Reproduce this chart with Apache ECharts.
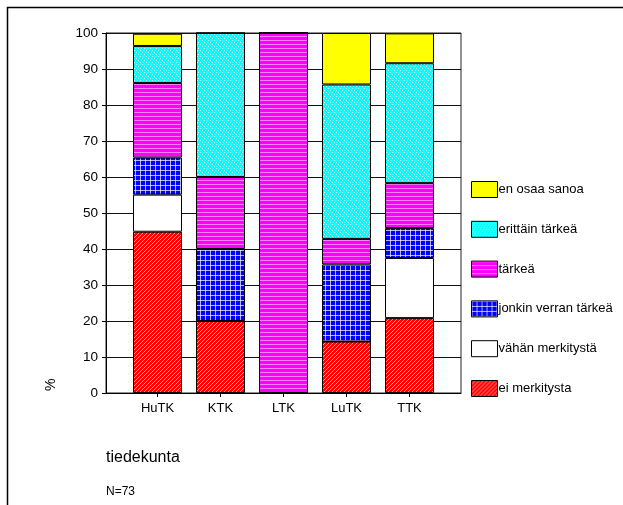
<!DOCTYPE html>
<html><head><meta charset="utf-8">
<script src="https://cdn.jsdelivr.net/npm/echarts@6/dist/echarts.min.js"></script>
<style>html,body{margin:0;padding:0;background:#fff}#c{width:623px;height:505px}</style>
</head><body><div id="c"></div>
<script>
const categories = ['HuTK', 'KTK', 'LTK', 'LuTK', 'TTK'];
const seriesNames = ['ei merkitysta', 'vähän merkitystä', 'jonkin verran tärkeä', 'tärkeä', 'erittäin tärkeä', 'en osaa sanoa'];
const eiMerkitysta   = [44.8, 20, 0, 14.3, 20.8];
const vahanMerkitysta = [10.3, 0, 0, 0, 16.7];
const jonkinVerran   = [10.3, 20, 0, 21.4, 8.3];
const tarkea         = [20.7, 20, 100, 7.1, 12.5];
const erittainTarkea = [10.3, 40, 0, 42.9, 33.3];
const enOsaaSanoa    = [3.4, 0, 0, 14.3, 8.3];
const yTicks = [0, 10, 20, 30, 40, 50, 60, 70, 80, 90, 100];

function pattern(w, h, bg, draw) {
  const c = document.createElement('canvas');
  c.width = w; c.height = h;
  const g = c.getContext('2d');
  g.fillStyle = bg; g.fillRect(0, 0, w, h);
  draw(g);
  return { image: c, repeat: 'repeat' };
}
const redPat = pattern(4, 4, '#ff0000', g => {
  g.strokeStyle = 'rgba(255,255,255,0.75)'; g.lineWidth = 0.8;
  g.beginPath(); g.moveTo(-1, 5); g.lineTo(5, -1); g.stroke();
});
const bluePat = pattern(5, 5, '#0000ff', g => {
  g.fillStyle = 'rgba(255,255,255,0.7)';
  g.fillRect(0, 0, 5, 1); g.fillRect(0, 0, 1, 5);
});
const magPat = pattern(4, 4, '#ff00ff', g => {
  g.fillStyle = 'rgba(255,255,255,0.5)';
  g.fillRect(0, 0, 4, 1);
});
const cyanPat = pattern(6, 6, '#00ffff', g => {
  g.fillStyle = 'rgba(255,255,255,0.75)';
  for (let i = 0; i < 6; i += 1) { if (i % 2 === 0) g.fillRect(i, i, 1, 1); }
  g.fillRect(3, 0, 1, 1); g.fillRect(5, 2, 1, 1); g.fillRect(1, 4, 1, 1);
});
const fills = [redPat, '#ffffff', bluePat, magPat, cyanPat, '#ffff00'];
const values = [eiMerkitysta, vahanMerkitysta, jonkinVerran, tarkea, erittainTarkea, enOsaaSanoa];

const font = 'Liberation Sans, Arial, sans-serif';
const chart = echarts.init(document.getElementById('c'), null, { renderer: 'canvas' });
chart.setOption({
  animation: false,
  backgroundColor: '#fff',
  textStyle: { fontFamily: font },
  grid: [
    { left: 106, right: 162, top: 33, bottom: 112, show: true, borderColor: '#222', borderWidth: 1, backgroundColor: 'transparent' },
    { left: 126, width: 315, top: 33, bottom: 112 }
  ],
  xAxis: [
    { gridIndex: 0, type: 'value', min: 0, max: 1, axisLabel: { show: false }, axisTick: { show: false }, splitLine: { show: false },
      axisLine: { show: true, lineStyle: { color: '#000', width: 1 } } },
    { gridIndex: 1, type: 'category', data: categories, axisLine: { show: false },
      axisTick: { show: true, alignWithLabel: true, length: 4, lineStyle: { color: '#000' } },
      axisLabel: { color: '#000', fontSize: 13, fontFamily: font, margin: 9 } }
  ],
  yAxis: [
    { gridIndex: 0, type: 'value', min: 0, max: 100, interval: 10,
      axisLine: { show: true, lineStyle: { color: '#000', width: 1 } },
      axisTick: { show: true, length: 4, lineStyle: { color: '#000' } },
      axisLabel: { color: '#000', fontSize: 13.5, fontFamily: font, margin: 8 },
      splitLine: { show: true, lineStyle: { color: '#111', width: 1 } } },
    { gridIndex: 1, type: 'value', min: 0, max: 100, show: false, splitLine: { show: false } }
  ],
  legend: {
    orient: 'vertical', left: 471, top: 181, padding: 0, icon: 'rect',
    itemWidth: 26, itemHeight: 16, itemGap: 22.8,
    data: seriesNames.slice().reverse(),
    textStyle: { color: '#000', fontSize: 13, fontFamily: font, padding: [0, 0, 0, -4] },
    itemStyle: { borderColor: '#000', borderWidth: 1 }
  },
  series: seriesNames.map((name, i) => ({
    name, type: 'bar', stack: 'all', xAxisIndex: 1, yAxisIndex: 1, barWidth: 49,
    data: values[i],
    itemStyle: { color: fills[i], borderColor: '#000', borderWidth: 1 },
    emphasis: { disabled: true }
  })),
  graphic: [
    { type: 'rect', shape: { x: 7.5, y: 7.5, width: 700, height: 600 }, style: { fill: null, stroke: '#000', lineWidth: 1.5 }, silent: true, z: 100 },
    { type: 'text', x: 44, y: 391, rotation: Math.PI / 2, style: { text: '%', fontSize: 14, fontFamily: font, fill: '#000' } },
    { type: 'text', x: 106, y: 450, style: { text: 'tiedekunta', fontSize: 16, fontFamily: font, fill: '#000' } },
    { type: 'text', x: 106, y: 486, style: { text: 'N=73', fontSize: 12, fontFamily: font, fill: '#000' } }
  ]
});
</script></body></html>
